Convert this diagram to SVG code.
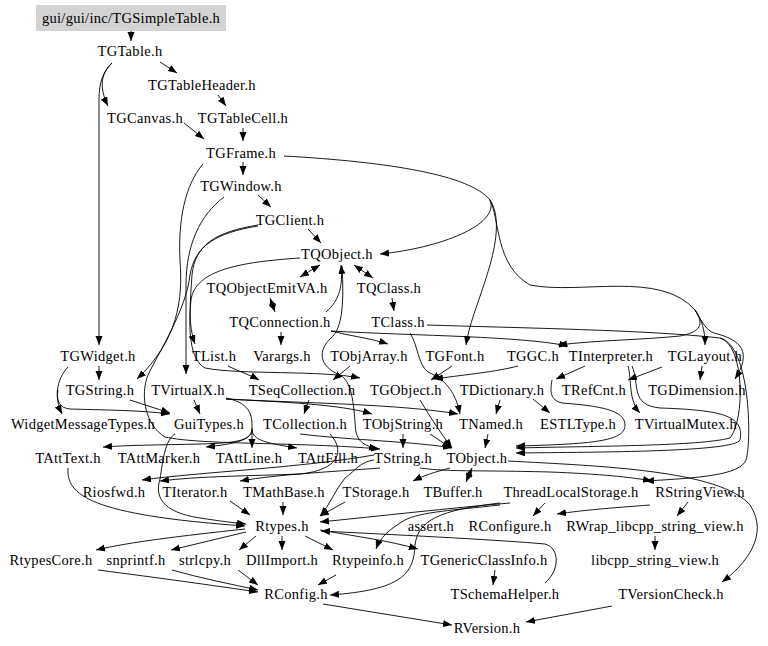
<svg xmlns="http://www.w3.org/2000/svg" width="768" height="646" viewBox="0 0 768 646" font-family="Liberation Serif, DejaVu Serif, serif">
<style>
text{font-size:14.5px;letter-spacing:0.3px;text-anchor:middle;fill:#000}
#edges path{fill:none;stroke:#000;stroke-width:0.9;marker-end:url(#a)}
#edges path.b{marker-start:url(#a)}
</style>
<defs>
<marker id="a" markerUnits="userSpaceOnUse" markerWidth="10" markerHeight="8" refX="9" refY="3.5" orient="auto-start-reverse"><path d="M0,0L9,3.5L0,7z" fill="#000"/></marker>
</defs>
<rect width="768" height="646" fill="#fff"/>
<g id="edges">
<path d="M131,31 L131,41"/>
<path d="M160,62 L177,73"/>
<path d="M112,63 C102,72 98,86 108,106"/>
<path d="M112,63 C103,72 99,82 99,100 L99,345"/>
<path d="M218,95 L226,106"/>
<path d="M184,123 L204,139"/>
<path d="M243,128 L243,141"/>
<path d="M243,162 L243,175"/>
<path d="M258,195 L271,207"/>
<path d="M308,229 L321,243"/>
<path d="M284,156 C390,162 470,175 490,200 C500,225 440,248 380,254"/>
<path d="M490,200 C500,215 497,240 490,265 C480,300 470,320 466,345"/>
<path d="M490,200 C500,220 495,265 530,285 C580,295 660,270 695,310 C705,325 700,332 680,336 C640,340 600,340 558,345"/>
<path d="M695,310 C702,320 705,330 705,345"/>
<path d="M695,310 C702,322 706,330 714,333 C742,340 752,352 735,379"/>
<path d="M203,164 C185,185 178,220 180,260 C183,300 178,340 137,379"/>
<path d="M224,197 C200,215 186,245 186,285 L186,374"/>
<path d="M258,225 C215,232 195,245 192,275 C190,305 188,325 195,344"/>
<path d="M258,226 C215,233 195,246 190,275 C186,310 160,350 148,375 C140,395 145,425 165,437 C200,445 300,442 380,449"/>
<path d="M300,258 C240,262 195,270 191,300 C188,330 190,360 205,368 C240,375 320,370 360,378"/>
<path class="b" d="M320,265 L300,277"/>
<path class="b" d="M354,265 L373,278"/>
<path class="b" d="M270,298 L275,312"/>
<path d="M392,298 L394,311"/>
<path d="M281,332 L281,345"/>
<path d="M326,312 C340,300 343,285 341,265"/>
<path d="M342,266 C344,300 343,328 331,338 C318,350 318,366 340,375 C355,382 354,420 356,432 C358,442 365,446 378,449"/>
<path d="M331,331 C350,336 370,338 388,344"/>
<path d="M331,331 C420,336 520,336 568,346"/>
<path d="M427,325 C520,328 650,330 720,338 C745,345 745,420 730,438 C700,446 600,446 516,448"/>
<path d="M720,338 C750,345 752,440 746,460 C740,475 700,478 645,481"/>
<path d="M410,333 C418,345 418,365 428,372 C445,380 455,390 460,414"/>
<path d="M585,366 L556,379"/>
<path d="M702,366 L700,380"/>
<path d="M662,367 L628,380"/>
<path d="M628,366 C632,380 628,400 640,413"/>
<path d="M632,366 C640,385 630,405 660,408 C720,410 745,415 740,440 C735,452 600,452 516,453"/>
<path d="M552,380 C550,392 550,400 562,403 C600,406 625,410 625,425 C625,440 600,444 516,446"/>
<path d="M452,366 L431,380"/>
<path d="M518,366 C495,372 470,374 434,379"/>
<path d="M228,366 C240,372 248,374 259,380"/>
<path d="M350,366 L333,380"/>
<path d="M309,400 L304,414"/>
<path d="M99,366 L99,380"/>
<path d="M68,367 C56,380 54,398 62,414"/>
<path d="M58,390 C56,402 60,408 70,409 C100,410 140,410 170,414"/>
<path d="M130,400 C145,405 155,408 170,413"/>
<path d="M194,400 L200,414"/>
<path d="M226,399 C300,403 400,404 458,414"/>
<path d="M226,399 C280,402 340,404 372,414"/>
<path d="M420,400 C432,420 440,432 452,448"/>
<path d="M500,400 L496,414"/>
<path d="M533,399 L550,413"/>
<path d="M488,434 L485,448"/>
<path d="M403,434 L403,448"/>
<path d="M430,434 L451,448"/>
<path d="M300,434 C350,440 420,442 452,448"/>
<path d="M226,398 C245,402 252,410 252,425 L252,448"/>
<path d="M252,428 C252,440 240,443 200,444 C160,445 130,445 103,447"/>
<path d="M252,430 C251,440 235,444 206,447"/>
<path d="M252,430 C253,440 265,443 297,448"/>
<path d="M374,455 C300,468 200,472 142,480"/>
<path d="M330,434 C345,450 340,470 300,474 C250,476 200,476 160,481"/>
<path d="M380,468 C330,472 280,474 240,481"/>
<path d="M450,468 C435,472 425,475 413,481"/>
<path class="b" d="M472,468 L466,482"/>
<path d="M374,460 C360,462 356,470 345,478 C335,490 330,505 320,516"/>
<path d="M283,502 L283,515"/>
<path d="M230,501 L250,515"/>
<path d="M345,502 L320,516"/>
<path d="M68,468 C66,495 90,515 245,526"/>
<path d="M175,434 C165,440 163,460 160,479 C155,495 160,512 200,518 C220,521 235,523 246,524"/>
<path d="M510,503 C450,508 380,516 320,522"/>
<path d="M500,503 C440,510 418,520 415,545 C414,575 400,590 330,595"/>
<path d="M500,505 C455,510 420,512 405,520 C388,530 380,538 376,549"/>
<path d="M320,530 C360,537 390,541 418,549"/>
<path d="M545,583 C560,570 560,548 545,544 C500,540 420,536 321,531"/>
<path d="M495,570 L493,585"/>
<path d="M508,461 C600,466 720,470 750,505 C770,535 745,565 722,582"/>
<path d="M420,468 C450,472 470,470 550,472 C600,474 630,477 652,481"/>
<path d="M688,502 L677,516"/>
<path d="M650,505 C610,508 585,510 557,514"/>
<path d="M545,503 L533,516"/>
<path d="M655,536 L655,550"/>
<path d="M245,529 C180,536 130,542 96,550"/>
<path d="M246,532 L171,550"/>
<path d="M256,536 L239,550"/>
<path d="M282,536 L282,550"/>
<path d="M305,536 L333,550"/>
<path d="M98,570 C160,578 210,585 258,592"/>
<path d="M172,570 C200,578 230,584 258,590"/>
<path d="M238,570 L258,585"/>
<path d="M336,575 L318,585"/>
<path d="M323,604 L452,625"/>
<path d="M612,606 L526,622"/>
</g>
<g id="n0"><rect x="36" y="5" width="190" height="26" fill="#d3d3d3"/><text x="131" y="23">gui/gui/inc/TGSimpleTable.h</text></g>
<g id="n1"><text x="130" y="56">TGTable.h</text></g>
<g id="n2"><text x="202" y="90">TGTableHeader.h</text></g>
<g id="n3"><text x="145" y="123">TGCanvas.h</text></g>
<g id="n4"><text x="243" y="123">TGTableCell.h</text></g>
<g id="n5"><text x="241" y="158">TGFrame.h</text></g>
<g id="n6"><text x="241" y="191">TGWindow.h</text></g>
<g id="n7"><text x="290" y="225">TGClient.h</text></g>
<g id="n8"><text x="337" y="259">TQObject.h</text></g>
<g id="n9"><text x="267" y="293">TQObjectEmitVA.h</text></g>
<g id="n10"><text x="389" y="293">TQClass.h</text></g>
<g id="n11"><text x="280" y="327">TQConnection.h</text></g>
<g id="n12"><text x="398" y="327">TClass.h</text></g>
<g id="n13"><text x="98" y="361">TGWidget.h</text></g>
<g id="n14"><text x="214" y="361">TList.h</text></g>
<g id="n15"><text x="282" y="361">Varargs.h</text></g>
<g id="n16"><text x="369" y="361">TObjArray.h</text></g>
<g id="n17"><text x="455" y="361">TGFont.h</text></g>
<g id="n18"><text x="533" y="361">TGGC.h</text></g>
<g id="n19"><text x="611" y="361">TInterpreter.h</text></g>
<g id="n20"><text x="705" y="361">TGLayout.h</text></g>
<g id="n21"><text x="100" y="395">TGString.h</text></g>
<g id="n22"><text x="188" y="395">TVirtualX.h</text></g>
<g id="n23"><text x="302" y="395">TSeqCollection.h</text></g>
<g id="n24"><text x="406" y="395">TGObject.h</text></g>
<g id="n25"><text x="502" y="395">TDictionary.h</text></g>
<g id="n26"><text x="594" y="395">TRefCnt.h</text></g>
<g id="n27"><text x="697" y="395">TGDimension.h</text></g>
<g id="n28"><text x="83" y="429">WidgetMessageTypes.h</text></g>
<g id="n29"><text x="209" y="429">GuiTypes.h</text></g>
<g id="n30"><text x="305" y="429">TCollection.h</text></g>
<g id="n31"><text x="403" y="429">TObjString.h</text></g>
<g id="n32"><text x="491" y="429">TNamed.h</text></g>
<g id="n33"><text x="578" y="429">ESTLType.h</text></g>
<g id="n34"><text x="686" y="429">TVirtualMutex.h</text></g>
<g id="n35"><text x="68" y="463">TAttText.h</text></g>
<g id="n36"><text x="159" y="463">TAttMarker.h</text></g>
<g id="n37"><text x="249" y="463">TAttLine.h</text></g>
<g id="n38"><text x="328" y="463">TAttFill.h</text></g>
<g id="n39"><text x="403" y="463">TString.h</text></g>
<g id="n40"><text x="477" y="463">TObject.h</text></g>
<g id="n41"><text x="114" y="497">Riosfwd.h</text></g>
<g id="n42"><text x="195" y="497">TIterator.h</text></g>
<g id="n43"><text x="284" y="497">TMathBase.h</text></g>
<g id="n44"><text x="376" y="497">TStorage.h</text></g>
<g id="n45"><text x="453" y="497">TBuffer.h</text></g>
<g id="n46"><text x="571" y="497">ThreadLocalStorage.h</text></g>
<g id="n47"><text x="700" y="497">RStringView.h</text></g>
<g id="n48"><text x="282" y="531">Rtypes.h</text></g>
<g id="n49"><text x="431" y="531">assert.h</text></g>
<g id="n50"><text x="510" y="531">RConfigure.h</text></g>
<g id="n51"><text x="655" y="531">RWrap_libcpp_string_view.h</text></g>
<g id="n52"><text x="51" y="565">RtypesCore.h</text></g>
<g id="n53"><text x="136" y="565">snprintf.h</text></g>
<g id="n54"><text x="205" y="565">strlcpy.h</text></g>
<g id="n55"><text x="282" y="565">DllImport.h</text></g>
<g id="n56"><text x="368" y="565">Rtypeinfo.h</text></g>
<g id="n57"><text x="484" y="565">TGenericClassInfo.h</text></g>
<g id="n58"><text x="655" y="565">libcpp_string_view.h</text></g>
<g id="n59"><text x="296" y="599">RConfig.h</text></g>
<g id="n60"><text x="505" y="599">TSchemaHelper.h</text></g>
<g id="n61"><text x="671" y="599">TVersionCheck.h</text></g>
<g id="n62"><text x="487" y="633">RVersion.h</text></g>
</svg>
